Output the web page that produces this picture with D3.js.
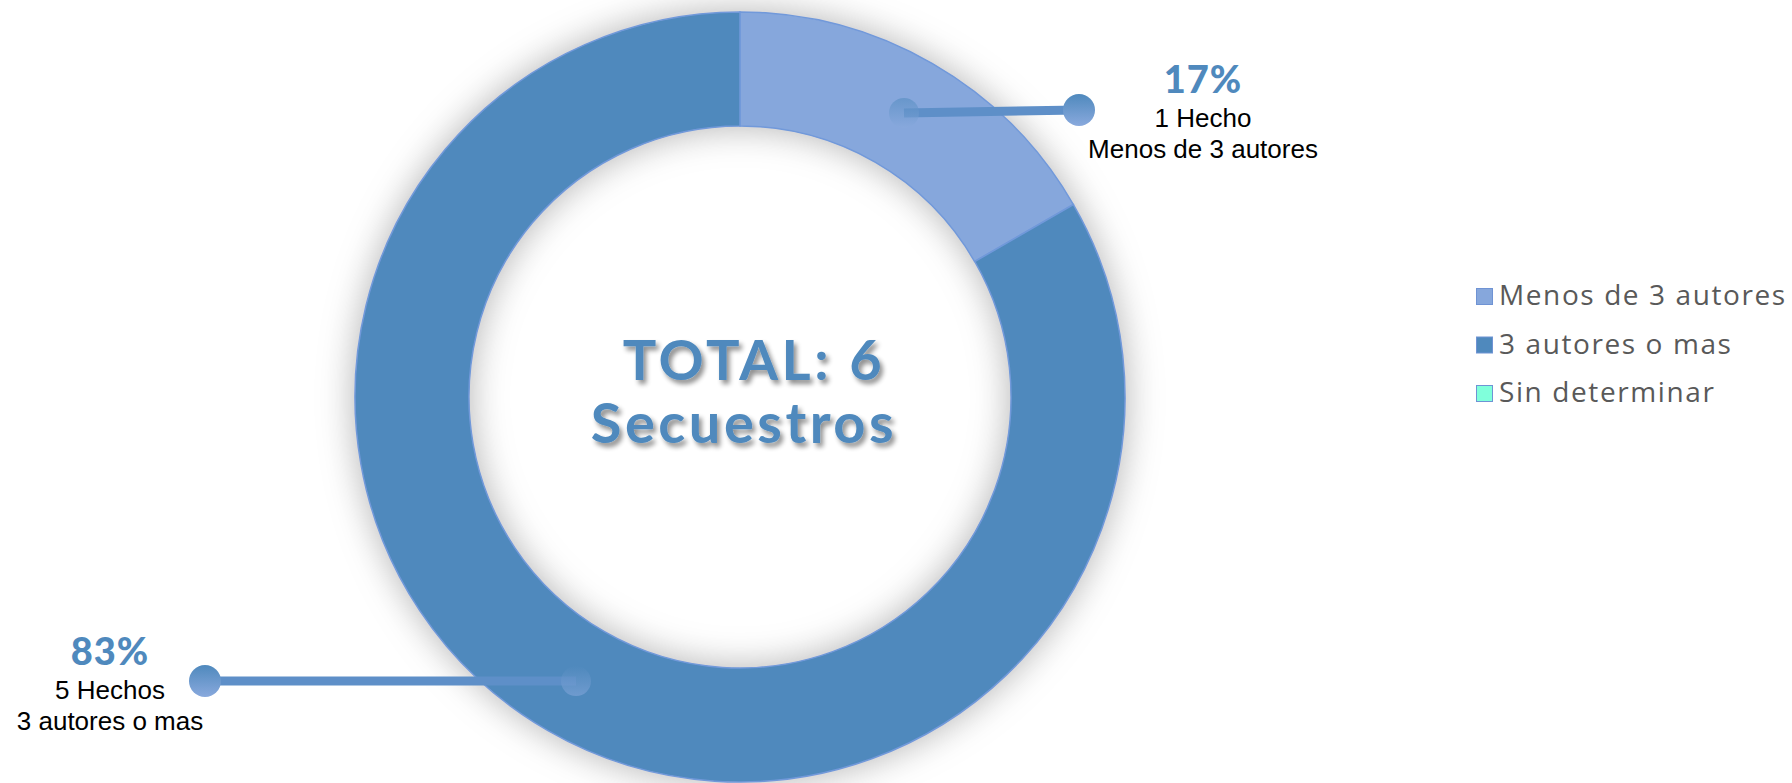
<!DOCTYPE html>
<html><head><meta charset="utf-8">
<script src="https://cdn.jsdelivr.net/npm/d3@7"></script>
<style>html,body{margin:0;padding:0;background:#fff;overflow:hidden}</style>
</head><body><svg id="c" width="1792" height="783"></svg>
<script>
const categories = ["Menos de 3 autores", "3 autores o mas", "Sin determinar"];
const values = [1, 5, 0];
const colors = ["#86A7DC", "#4F89BD", "#80FFDB"];
const unitSingular = "Hecho", unitPlural = "Hechos";
const totalLabel = "TOTAL: ";
const totalUnit = "Secuestros";

const svg = d3.select("#c");
const cx = 740, cy = 397, rOuter = 385, rInner = 271;
const defs = svg.append("defs");

const shadow = defs.append("filter").attr("id","ringShadow")
  .attr("x","-25%").attr("y","-25%").attr("width","150%").attr("height","150%");
shadow.append("feGaussianBlur").attr("in","SourceAlpha").attr("stdDeviation",18).attr("result","b");
shadow.append("feComponentTransfer").attr("in","b").attr("result","b2")
  .append("feFuncA").attr("type","linear").attr("slope",0.75);
shadow.append("feFlood").attr("flood-color","#999").attr("result","f");
shadow.append("feComposite").attr("in","f").attr("in2","b2").attr("operator","in").attr("result","s");
const m1 = shadow.append("feMerge");
m1.append("feMergeNode").attr("in","s");
m1.append("feMergeNode").attr("in","SourceGraphic");

const tshadow = defs.append("filter").attr("id","txtShadow")
  .attr("x","-10%").attr("y","-20%").attr("width","130%").attr("height","160%");
tshadow.append("feGaussianBlur").attr("in","SourceAlpha").attr("stdDeviation",2.5).attr("result","b");
tshadow.append("feOffset").attr("in","b").attr("dx",3).attr("dy",4).attr("result","o");
tshadow.append("feComponentTransfer").attr("in","o").attr("result","o2")
  .append("feFuncA").attr("type","linear").attr("slope",0.45);
const m2 = tshadow.append("feMerge");
m2.append("feMergeNode").attr("in","o2");
m2.append("feMergeNode").attr("in","SourceGraphic");

const grad = defs.append("linearGradient").attr("id","lead").attr("x1",0).attr("y1",0).attr("x2",0).attr("y2",1);
grad.append("stop").attr("offset","0%").attr("stop-color","#4F89BD");
grad.append("stop").attr("offset","100%").attr("stop-color","#89A9DD");

const total = d3.sum(values);
const pie = d3.pie().sort(null).value(d => d);
const arcs = pie(values);
const arc = d3.arc().innerRadius(rInner).outerRadius(rOuter);

const g = svg.append("g").attr("transform",`translate(${cx},${cy})`);
const ring = g.append("g").attr("filter","url(#ringShadow)");
ring.selectAll("path").data(arcs.filter(d => d.value > 0)).join("path")
  .attr("d", arc)
  .attr("fill", d => colors[d.index])
  .attr("stroke", "#7199DA").attr("stroke-width", 1.5);

// center text
const ct = svg.append("g").attr("filter","url(#txtShadow)")
  .attr("font-family","Lato, 'Open Sans', sans-serif").attr("font-weight","bold")
  .attr("fill","#4F89BD").attr("font-size",56).attr("letter-spacing",3.5);
ct.append("text").attr("x",754).attr("y",380).attr("text-anchor","middle").text(totalLabel + total);
ct.append("text").attr("x",744).attr("y",443).attr("text-anchor","middle").text(totalUnit);

// leaders and labels
const labelX = [1079, 205];
const labelTextX = [1203, 110];
const labelTop = [93, 665];
arcs.forEach((d, i) => {
  if (d.value <= 0) return;
  const [px, py] = arc.centroid(d);
  const x0 = cx + px, y0 = cy + py;
  const x1 = labelX[i], y1 = i === 0 ? y0 - 3 : y0;
  const lg = svg.append("g");
  lg.append("line").attr("x1",x0).attr("y1",y0).attr("x2",x1).attr("y2",y1)
    .attr("stroke","#5E8FC8").attr("stroke-width",9);
  lg.append("circle").attr("cx",x0).attr("cy",y0).attr("r",15).attr("fill","url(#lead)").attr("opacity",0.55);
  lg.append("circle").attr("cx",x1).attr("cy",y1).attr("r",16).attr("fill","url(#lead)");
  const pct = Math.round(d.value / total * 100) + "%";
  const tx = labelTextX[i], ty = labelTop[i];
  svg.append("text").attr("x",tx).attr("y",ty).attr("text-anchor","middle")
    .attr("font-family","Lato, sans-serif").attr("font-weight","900").attr("font-size",38)
    .attr("letter-spacing",1).attr("fill","#4F89BD").text(pct);
  svg.append("text").attr("x",tx).attr("y",ty + 34).attr("text-anchor","middle")
    .attr("font-family","'Liberation Sans', Arial, sans-serif").attr("font-size",26).attr("fill","#000")
    .text(d.value + " " + (d.value === 1 ? unitSingular : unitPlural));
  svg.append("text").attr("x",tx).attr("y",ty + 65).attr("text-anchor","middle")
    .attr("font-family","'Liberation Sans', Arial, sans-serif").attr("font-size",26).attr("fill","#000")
    .text(categories[i]);
});

// legend
const leg = svg.append("g").attr("transform","translate(1476,288)");
const rows = leg.selectAll("g").data(categories).join("g")
  .attr("transform",(d,i) => `translate(0,${i*48.5})`);
rows.append("rect").attr("x",0.5).attr("y",0.5).attr("width",16).attr("height",16)
  .attr("fill",(d,i) => colors[i]).attr("stroke","#6F93D4").attr("stroke-width",1);
rows.append("text").attr("x",23).attr("y",17)
  .attr("font-family","'Open Sans', sans-serif").attr("font-size",28).attr("letter-spacing",1.6)
  .attr("fill","#595959").text(d => d);
</script>
</body></html>
